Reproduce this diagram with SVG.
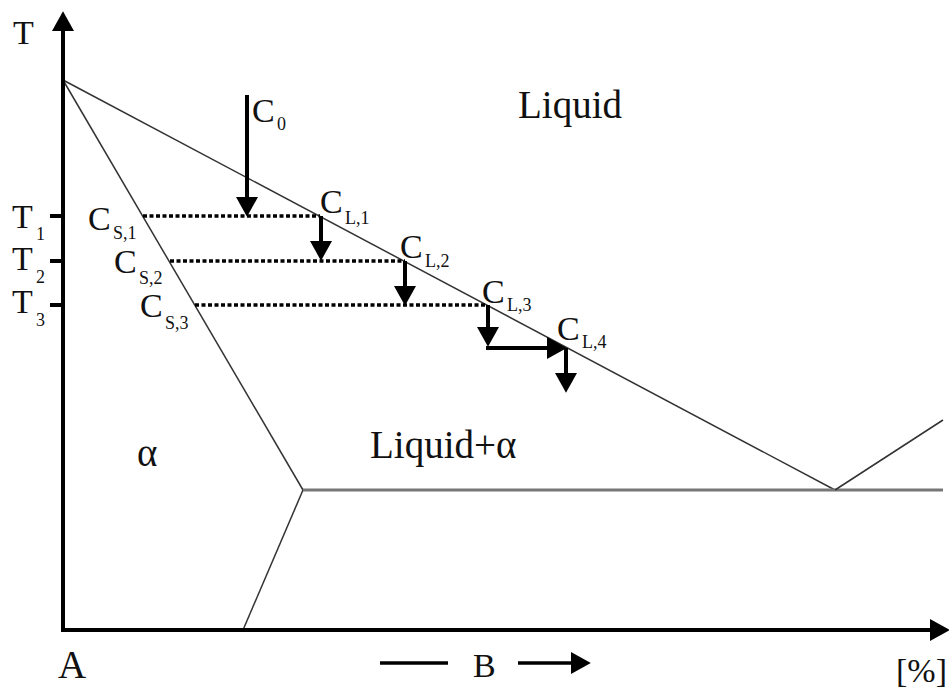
<svg xmlns="http://www.w3.org/2000/svg" width="949" height="688" viewBox="0 0 949 688">
<style>
.t{font-family:"Liberation Serif","Times New Roman",serif;fill:#111}
.big{font-size:39px}
.lab{font-size:34px}
.sub{font-size:18px}
.thin{stroke:#333;stroke-width:1.5;fill:none}
.eut{stroke:#777;stroke-width:2.8;fill:none}
.axis{stroke:#000;stroke-width:4;fill:none}
.arr{stroke:#000;stroke-width:4;fill:none}
.dot{stroke:#000;stroke-width:3.5;stroke-dasharray:4 2.5;fill:none}
</style>
<defs>
<marker id="ah" markerUnits="userSpaceOnUse" markerWidth="20" markerHeight="22" refX="10" refY="10" orient="auto" viewBox="0 0 18 20">
<path d="M0,0 L18,10 L0,20 z" fill="#000"/>
</marker>
</defs>
<rect width="949" height="688" fill="#fff"/>
<g id="phase-lines">
<line class="thin" x1="63" y1="80" x2="835" y2="490"/>
<line class="thin" x1="63" y1="80" x2="303" y2="490"/>
<line class="thin" x1="303" y1="490" x2="243" y2="630"/>
<line class="eut" x1="303" y1="490" x2="943" y2="490"/>
<line class="thin" x1="835" y1="490" x2="943" y2="420"/>
</g>
<g id="axes">
<line class="axis" x1="63" y1="632" x2="63" y2="20" marker-end="url(#ah)"/>
<line class="axis" x1="61" y1="630" x2="941" y2="630" marker-end="url(#ah)"/>
<line class="axis" x1="50" y1="216" x2="63" y2="216"/>
<line class="axis" x1="50" y1="261" x2="63" y2="261"/>
<line class="axis" x1="50" y1="305" x2="63" y2="305"/>
</g>
<g id="connectors">
<line class="dot" x1="143" y1="216" x2="320" y2="216"/>
<line class="dot" x1="170" y1="261" x2="405" y2="261"/>
<line class="dot" x1="195" y1="305" x2="487" y2="305"/>
<line class="arr" x1="247" y1="95" x2="247" y2="208" marker-end="url(#ah)"/>
<line class="arr" x1="321" y1="216" x2="321" y2="252" marker-end="url(#ah)"/>
<line class="arr" x1="405" y1="261" x2="405" y2="297" marker-end="url(#ah)"/>
<line class="arr" x1="488" y1="305" x2="488" y2="338" marker-end="url(#ah)"/>
<line class="arr" x1="486" y1="348" x2="558" y2="348" marker-end="url(#ah)"/>
<line class="arr" x1="566" y1="348" x2="566" y2="384" marker-end="url(#ah)"/>
<line stroke="#000" stroke-width="3.5" x1="380" y1="663" x2="448" y2="663"/>
<line stroke="#000" stroke-width="3.5" x1="518" y1="663" x2="582" y2="663" marker-end="url(#ah)"/>
</g>
<g id="axis-labels">
<text class="t lab" x="13" y="44">T</text>
<text class="t big" x="58" y="678">A</text>
<text class="t lab" x="473" y="677">B</text>
<text class="t lab" x="896" y="682">[%]</text>
</g>
<g id="T1"><text class="t lab" x="12" y="228">T</text><text class="t sub" x="36" y="240">1</text></g>
<g id="T2"><text class="t lab" x="12" y="270">T</text><text class="t sub" x="36" y="283">2</text></g>
<g id="T3"><text class="t lab" x="12" y="313">T</text><text class="t sub" x="36" y="326">3</text></g>
<g id="CS1"><text class="t lab" x="88" y="230">C</text><text class="t sub" x="113" y="239">S,1</text></g>
<g id="CS2"><text class="t lab" x="114" y="273">C</text><text class="t sub" x="139" y="284">S,2</text></g>
<g id="CS3"><text class="t lab" x="140" y="317">C</text><text class="t sub" x="165" y="329">S,3</text></g>
<g id="C0"><text class="t lab" x="252" y="122">C</text><text class="t sub" x="277" y="130">0</text></g>
<g id="CL1"><text class="t lab" x="320" y="213">C</text><text class="t sub" x="345" y="224">L,1</text></g>
<g id="CL2"><text class="t lab" x="400" y="258">C</text><text class="t sub" x="425" y="267">L,2</text></g>
<g id="CL3"><text class="t lab" x="482" y="303">C</text><text class="t sub" x="507" y="311">L,3</text></g>
<g id="CL4"><text class="t lab" x="557" y="340">C</text><text class="t sub" x="582" y="348">L,4</text></g>
<g id="regions">
<text class="t big" x="518" y="118">Liquid</text>
<text class="t big" x="370" y="458">Liquid+α</text>
<text class="t big" x="137" y="466">α</text>
</g>
</svg>
